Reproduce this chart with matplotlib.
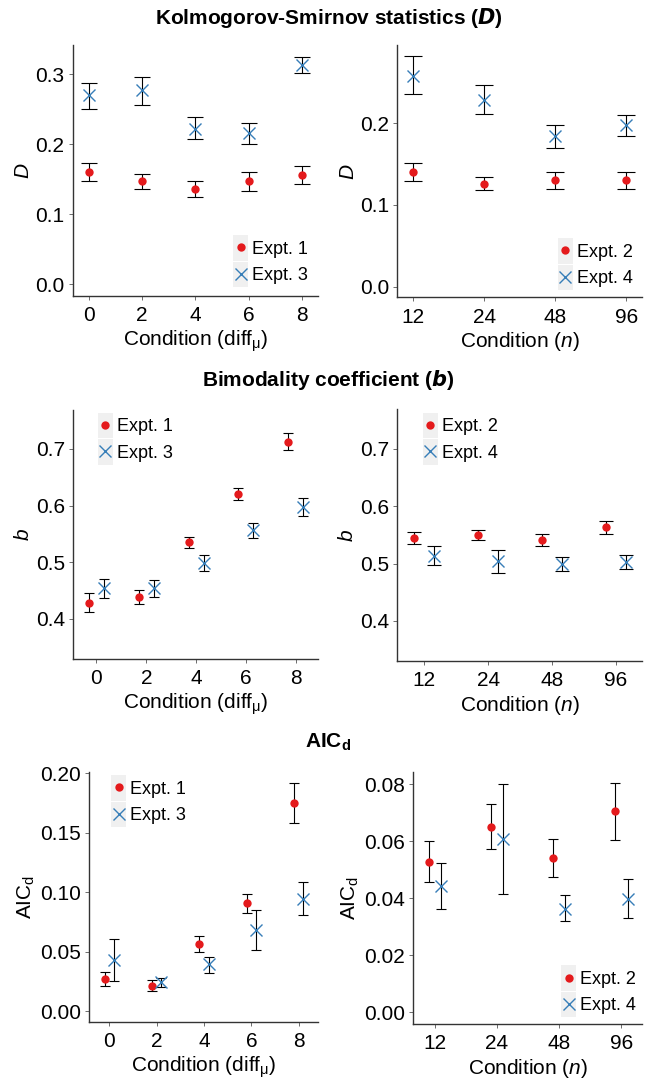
import matplotlib
matplotlib.use('Agg')
import matplotlib.pyplot as plt
from matplotlib.legend_handler import HandlerBase
from matplotlib.patches import Rectangle
from matplotlib.lines import Line2D
import numpy as np

plt.rcParams['font.family'] = ['Liberation Sans', 'DejaVu Sans']
plt.rcParams['mathtext.fontset'] = 'custom'
plt.rcParams['mathtext.rm'] = 'Liberation Sans'
plt.rcParams['mathtext.it'] = 'Liberation Sans:italic'
plt.rcParams['mathtext.bf'] = 'Liberation Sans:bold'

RED = '#E41A1C'
BLUE = '#377EB8'
KEY_BG = '#F0F0F0'
SPINE = '#333333'

# ---- data ----
diff_levels = [0, 2, 4, 6, 8]
n_levels = ['12', '24', '48', '96']

# Kolmogorov-Smirnov D
ks_e1 = [0.161, 0.147, 0.136, 0.148, 0.156]
ks_e1_lo = [0.148, 0.136, 0.125, 0.133, 0.143]
ks_e1_hi = [0.174, 0.158, 0.147, 0.161, 0.169]
ks_e3 = [0.270, 0.277, 0.222, 0.216, 0.314]
ks_e3_lo = [0.251, 0.256, 0.207, 0.201, 0.302]
ks_e3_hi = [0.288, 0.296, 0.239, 0.230, 0.325]

ks_e2 = [0.140, 0.126, 0.131, 0.130]
ks_e2_lo = [0.129, 0.118, 0.120, 0.119]
ks_e2_hi = [0.151, 0.134, 0.141, 0.140]
ks_e4 = [0.258, 0.229, 0.184, 0.198]
ks_e4_lo = [0.236, 0.211, 0.170, 0.184]
ks_e4_hi = [0.282, 0.247, 0.198, 0.210]

# Bimodality coefficient b
bc_e1 = [0.429, 0.439, 0.535, 0.621, 0.713]
bc_e1_lo = [0.412, 0.427, 0.525, 0.610, 0.698]
bc_e1_hi = [0.445, 0.451, 0.544, 0.632, 0.729]
bc_e3 = [0.454, 0.454, 0.499, 0.557, 0.597]
bc_e3_lo = [0.437, 0.439, 0.484, 0.543, 0.581]
bc_e3_hi = [0.471, 0.469, 0.513, 0.569, 0.613]

bc_e2 = [0.545, 0.550, 0.542, 0.564]
bc_e2_lo = [0.534, 0.541, 0.531, 0.552]
bc_e2_hi = [0.555, 0.559, 0.552, 0.575]
bc_e4 = [0.514, 0.504, 0.500, 0.503]
bc_e4_lo = [0.497, 0.484, 0.488, 0.491]
bc_e4_hi = [0.530, 0.524, 0.512, 0.515]

# AIC_d
aic_e1 = [0.0266, 0.0213, 0.0561, 0.0906, 0.1748]
aic_e1_lo = [0.0208, 0.0168, 0.0494, 0.0822, 0.1579]
aic_e1_hi = [0.0325, 0.0258, 0.0628, 0.0987, 0.1919]
aic_e3 = [0.0429, 0.0241, 0.0396, 0.0679, 0.0942]
aic_e3_lo = [0.0255, 0.0202, 0.0323, 0.0511, 0.0805]
aic_e3_hi = [0.0609, 0.0278, 0.0457, 0.0853, 0.1083]

aic_e2 = [0.0526, 0.0651, 0.0542, 0.0705]
aic_e2_lo = [0.0456, 0.0573, 0.0476, 0.0605]
aic_e2_hi = [0.0600, 0.0730, 0.0607, 0.0805]
aic_e4 = [0.0442, 0.0607, 0.0364, 0.0399]
aic_e4_lo = [0.0363, 0.0416, 0.0320, 0.0331]
aic_e4_hi = [0.0522, 0.0800, 0.0411, 0.0468]


class KeyHandler(HandlerBase):
    '''grey ggplot-like legend key behind the marker'''
    def create_artists(self, legend, orig_handle, xdescent, ydescent,
                       width, height, fontsize, trans):
        kh = 1.48 * fontsize
        cy = -ydescent + height / 2
        bg = Rectangle((-xdescent, cy - kh / 2), width, kh - 0.8,
                       facecolor=KEY_BG, edgecolor='none', transform=trans)
        mk = Line2D([-xdescent + width / 2], [cy], linestyle='none',
                    marker=orig_handle.get_marker(),
                    markersize=orig_handle.get_markersize(),
                    color=orig_handle.get_color(),
                    markeredgewidth=orig_handle.get_markeredgewidth(),
                    transform=trans)
        return [bg, mk]


W, H = 657, 1078
fig = plt.figure(figsize=(W / 100, H / 100), dpi=100)


def make_ax(l, r, t, b):
    return fig.add_axes([l / W, 1 - b / H, (r - l) / W, (b - t) / H])


def draw(ax, x, y, lo, hi, color, marker, ms, cap):
    y = np.array(y)
    err = [y - np.array(lo), np.array(hi) - y]
    ax.errorbar(x, y, yerr=err, fmt='none', ecolor='black', elinewidth=0.8,
                capsize=cap, capthick=0.8, zorder=2)
    mew = 1.0 if marker == 'x' else 0
    h, = ax.plot(x, y, linestyle='none', marker=marker, markersize=ms,
                 color=color, markeredgewidth=mew, zorder=3)
    return h


def style(ax, xlim, ylim, yticks, yfmt, xticks, xlabels, ylabel, xlabel, italic_y=True):
    ax.set_xlim(*xlim)
    ax.set_ylim(*ylim)
    ax.set_yticks(yticks)
    ax.set_yticklabels([yfmt.format(v) for v in yticks])
    ax.set_xticks(xticks)
    ax.set_xticklabels(xlabels)
    for s in ['top', 'right']:
        ax.spines[s].set_visible(False)
    for s in ['left', 'bottom']:
        ax.spines[s].set_color(SPINE)
        ax.spines[s].set_linewidth(1.0)
    ax.tick_params(axis='both', length=3, width=0.6, color='#555555',
                   labelsize=15, pad=3, labelcolor='black')
    ax.tick_params(axis='x', pad=4.5)
    ax.set_ylabel(ylabel, fontsize=15, fontstyle='italic' if italic_y else 'normal', labelpad=2)
    ax.set_xlabel(xlabel, fontsize=15, labelpad=2.5)


def add_legend(ax, handles, labels, anchor):
    ax.legend(handles, labels, loc='upper left', bbox_to_anchor=anchor,
              frameon=False, fontsize=13, handlelength=0.85,
              handleheight=0.7, handletextpad=0.2, labelspacing=0.52,
              borderpad=0, borderaxespad=0,
              handler_map={Line2D: KeyHandler()})


xlab_diff = r'Condition (diff$_\mathrm{\mu}$)'
xlab_n = r'Condition ($n$)'
ncat = np.arange(len(n_levels))
dx = np.array(diff_levels, dtype=float)

# ---- row 1: KS ----
ax1 = make_ax(72.7, 318, 45, 295.7)
h1 = draw(ax1, dx, ks_e1, ks_e1_lo, ks_e1_hi, RED, 'o', 6, 5.8)
h3 = draw(ax1, dx, ks_e3, ks_e3_lo, ks_e3_hi, BLUE, 'x', 8.5, 5.8)
style(ax1, (-0.61, 8.6), (-0.0162, 0.342), [0.0, 0.1, 0.2, 0.3], '{:.1f}',
      diff_levels, [str(v) for v in diff_levels], 'D', xlab_diff)
add_legend(ax1, [h1, h3], ['Expt. 1', 'Expt. 3'], (0.653, 0.219))

ax2 = make_ax(397.3, 642.3, 45, 297.3)
h2 = draw(ax2, ncat, ks_e2, ks_e2_lo, ks_e2_hi, RED, 'o', 6, 6.8)
h4 = draw(ax2, ncat, ks_e4, ks_e4_lo, ks_e4_hi, BLUE, 'x', 8.5, 6.8)
style(ax2, (-0.225, 3.225), (-0.0131, 0.296), [0.0, 0.1, 0.2], '{:.1f}',
      ncat, n_levels, 'D', xlab_n)
add_legend(ax2, [h2, h4], ['Expt. 2', 'Expt. 4'], (0.655, 0.212))

# ---- row 2: bimodality ----
ax3 = make_ax(73.3, 318.3, 410, 659)
h1 = draw(ax3, dx - 0.3, bc_e1, bc_e1_lo, bc_e1_hi, RED, 'o', 6, 3.6)
h3 = draw(ax3, dx + 0.3, bc_e3, bc_e3_lo, bc_e3_hi, BLUE, 'x', 8.5, 3.6)
style(ax3, (-0.93, 8.91), (0.3294, 0.7688), [0.4, 0.5, 0.6, 0.7], '{:.1f}',
      diff_levels, [str(v) for v in diff_levels], 'b', xlab_diff)
add_legend(ax3, [h1, h3], ['Expt. 1', 'Expt. 3'], (0.10, 0.967))

ax4 = make_ax(397.3, 642.3, 409.3, 660.7)
h2 = draw(ax4, ncat - 0.155, bc_e2, bc_e2_lo, bc_e2_hi, RED, 'o', 6, 4.7)
h4 = draw(ax4, ncat + 0.155, bc_e4, bc_e4_lo, bc_e4_hi, BLUE, 'x', 8.5, 4.7)
style(ax4, (-0.423, 3.415), (0.3308, 0.769), [0.4, 0.5, 0.6, 0.7], '{:.1f}',
      ncat, n_levels, 'b', xlab_n)
add_legend(ax4, [h2, h4], ['Expt. 2', 'Expt. 4'], (0.104, 0.964))

# ---- row 3: AIC_d ----
ax5 = make_ax(89.3, 318.3, 771.7, 1021.7)
h1 = draw(ax5, dx - 0.2, aic_e1, aic_e1_lo, aic_e1_hi, RED, 'o', 6, 3.6)
h3 = draw(ax5, dx + 0.2, aic_e3, aic_e3_lo, aic_e3_hi, BLUE, 'x', 8.5, 3.6)
style(ax5, (-0.845, 8.83), (-0.009, 0.2014), [0.0, 0.05, 0.10, 0.15, 0.20], '{:.2f}',
      diff_levels, [str(v) for v in diff_levels], r'AIC$_\mathrm{d}$', xlab_diff, italic_y=False)
add_legend(ax5, [h1, h3], ['Expt. 1', 'Expt. 3'], (0.095, 0.964))

ax6 = make_ax(413.3, 642.3, 771.7, 1024)
h2 = draw(ax6, ncat - 0.1, aic_e2, aic_e2_lo, aic_e2_hi, RED, 'o', 6, 3.9)
h4 = draw(ax6, ncat + 0.1, aic_e4, aic_e4_lo, aic_e4_hi, BLUE, 'x', 8.5, 3.9)
style(ax6, (-0.346, 3.338), (-0.0041, 0.0844), [0.0, 0.02, 0.04, 0.06, 0.08], '{:.2f}',
      ncat, n_levels, r'AIC$_\mathrm{d}$', xlab_n, italic_y=False)
add_legend(ax6, [h2, h4], ['Expt. 2', 'Expt. 4'], (0.645, 0.21))

# ---- row titles ----
fig.text(0.5, 1 - 18 / H, r'Kolmogorov-Smirnov statistics ($\mathbfit{D}$)',
         ha='center', va='center', fontsize=15, fontweight='bold')
fig.text(0.5, 1 - 380 / H, r'Bimodality coefficient ($\mathbfit{b}$)',
         ha='center', va='center', fontsize=15, fontweight='bold')
fig.text(0.5, 1 - 742 / H, r'$\mathbf{AIC}_\mathbf{d}$',
         ha='center', va='center', fontsize=15, fontweight='bold')

fig.savefig('out.png', dpi=100)
